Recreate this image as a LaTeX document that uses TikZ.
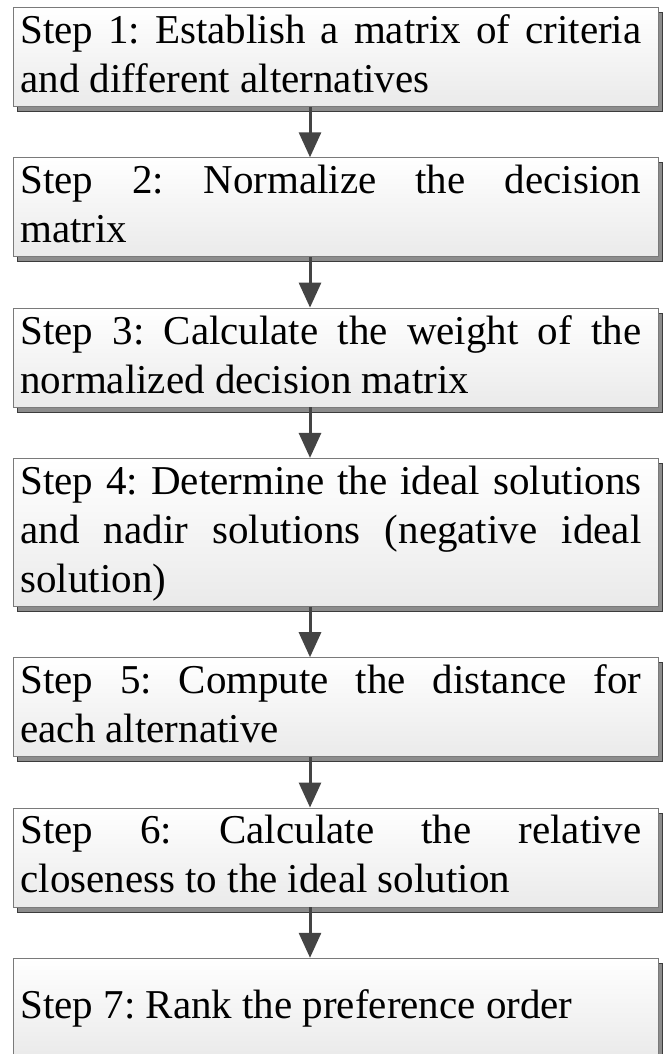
\documentclass[tikz,border=0pt]{standalone}
\usepackage{fontspec}
\setmainfont{Liberation Serif}
\usetikzlibrary{positioning,shadows,arrows.meta}
\definecolor{boxline}{HTML}{7A7A7A}
\definecolor{boxshade}{HTML}{8C8C8C}
\definecolor{boxshadeline}{HTML}{3C3C3C}
\definecolor{boxbottom}{HTML}{EAEAEA}
\definecolor{arrowgray}{HTML}{444444}
\newcommand\stepstrut{\rule[-13.5pt]{0pt}{49pt}}
\tikzset{
  stepbox/.style={draw=boxline, line width=0.8pt, top color=white, bottom color=boxbottom,
    drop shadow={shadow xshift=4pt, shadow yshift=-5pt, fill=boxshade, draw=boxshadeline, opacity=1},
    text width=645pt, inner xsep=0pt, inner ysep=0.5pt, minimum height=99pt,
    font=\fontsize{41}{49}\selectfont,
    execute at begin node={\frenchspacing\spaceskip=10.25pt plus 80pt minus 2pt
      \parindent=0pt\leftskip=7pt\rightskip=17pt\parfillskip=0pt plus 1fil
      \hyphenpenalty=10000\tolerance=10000\hbadness=10000\stepstrut},
    execute at end node={\stepstrut}},
  flowarrow/.style={draw=arrowgray, line width=3pt, -{Triangle[width=22pt,length=25pt]}}
}
\begin{document}
\begin{tikzpicture}[node distance=50.5pt]
  \useasboundingbox (0,0) rectangle (665pt,-1054pt);
  \node[stepbox, anchor=north west] (s1) at (13pt,-7pt) {Step 1: Establish a matrix of criteria\linebreak and different alternatives};
  \node[stepbox, below=of s1] (s2) {Step 2: Normalize the decision\linebreak matrix};
  \node[stepbox, below=of s2] (s3) {Step 3: Calculate the weight of the\linebreak normalized decision matrix};
  \node[stepbox, below=of s3] (s4) {Step 4: Determine the ideal solutions\linebreak and nadir solutions (negative ideal\linebreak solution)};
  \node[stepbox, below=of s4] (s5) {Step 5: Compute the distance for\linebreak each alternative};
  \node[stepbox, below=of s5] (s6) {Step 6: Calculate the relative\linebreak closeness to the ideal solution};
  \node[stepbox, below=of s6] (s7) {Step 7: Rank the preference order};
  \coordinate (ax) at (310pt,0);
  \foreach \a/\b in {s1/s2,s2/s3,s3/s4,s4/s5,s5/s6,s6/s7}
    \draw[flowarrow] (\a.south -| ax) -- (\b.north -| ax);
\end{tikzpicture}
\end{document}
